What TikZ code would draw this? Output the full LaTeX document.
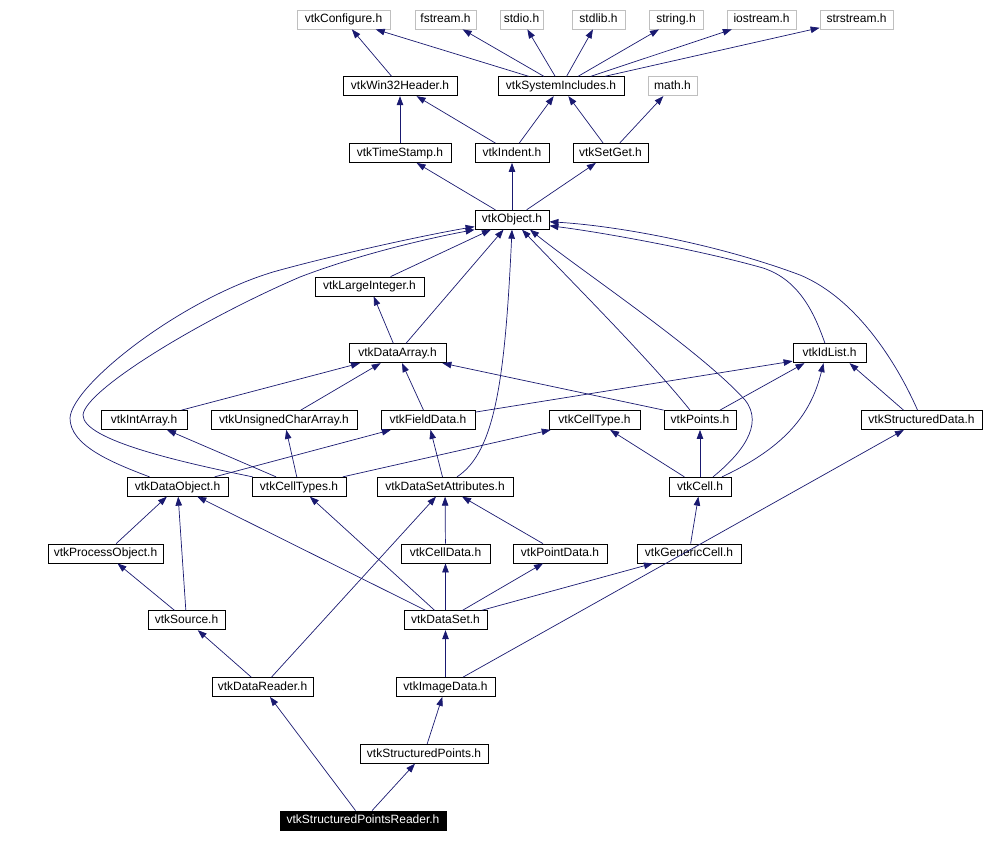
\documentclass[tikz,border=0pt]{standalone}
\usepackage{fontspec}
\setmainfont{Liberation Sans}
\usepackage{tikz}
\usetikzlibrary{arrows.meta}
\definecolor{edgeblue}{HTML}{191970}
\definecolor{boxgray}{HTML}{BFBFBF}
\tikzset{>={Triangle[length=9pt,width=6.5pt]}}
\tikzset{
  hdr/.style={draw=black, line width=0.8pt, fill=white, inner xsep=0pt, inner ysep=0pt,
    minimum height=19pt, text height=9pt, text depth=2.5pt, font=\fontsize{12}{14}\selectfont},
  syshdr/.style={hdr, draw=boxgray},
  curhdr/.style={hdr, fill=black, text=white},
  dep/.style={->, draw=edgeblue, line width=0.7pt}
}
\begin{document}
\begin{tikzpicture}[x=1pt,y=-1pt]
				\useasboundingbox (0,0) rectangle (984,842);
				% system headers
				\node[syshdr, minimum width=93pt] (cfg) at (343.5,19.5) {vtkConfigure.h};
				\node[syshdr, minimum width=61pt] (fstr) at (445.5,19.5) {fstream.h};
				\node[syshdr, minimum width=43pt] (stdio) at (521.5,19.5) {stdio.h};
				\node[syshdr, minimum width=53pt] (stdlib) at (598.5,19.5) {stdlib.h};
				\node[syshdr, minimum width=54pt] (str) at (676,19.5) {string.h};
				\node[syshdr, minimum width=69pt] (ios) at (761.5,19.5) {iostream.h};
				\node[syshdr, minimum width=73pt] (sstr) at (856.5,19.5) {strstream.h};
				\node[hdr, minimum width=114pt] (win) at (400,86.25) {vtkWin32Header.h};
				\node[hdr, minimum width=126pt] (sys) at (561,86.25) {vtkSystemIncludes.h};
				\node[syshdr, minimum width=49pt] (math) at (672.5,86.25) {math.h};
				\node[hdr, minimum width=102pt] (ts) at (400,153) {vtkTimeStamp.h};
				\node[hdr, minimum width=74pt] (ind) at (512,153) {vtkIndent.h};
				\node[hdr, minimum width=75pt] (sg) at (610.5,153) {vtkSetGet.h};
				\node[hdr, minimum width=74pt] (obj) at (512,219.75) {vtkObject.h};
				\node[hdr, minimum width=109pt] (li) at (369.5,286.5) {vtkLargeInteger.h};
				\node[hdr, minimum width=97pt] (da) at (397.5,353.25) {vtkDataArray.h};
				\node[hdr, minimum width=73pt] (idl) at (829.5,353.25) {vtkIdList.h};
				\node[hdr, minimum width=86pt] (ia) at (144,420) {vtkIntArray.h};
				\node[hdr, minimum width=146pt] (uca) at (284,420) {vtkUnsignedCharArray.h};
				\node[hdr, minimum width=94pt] (fd) at (428,420) {vtkFieldData.h};
				\node[hdr, minimum width=91pt] (ctype) at (594.5,420) {vtkCellType.h};
				\node[hdr, minimum width=72pt] (pts) at (700,420) {vtkPoints.h};
				\node[hdr, minimum width=121pt] (sd) at (921.5,420) {vtkStructuredData.h};
				\node[hdr, minimum width=101pt] (dobj) at (177.5,486.75) {vtkDataObject.h};
				\node[hdr, minimum width=94pt] (ctypes) at (299,486.75) {vtkCellTypes.h};
				\node[hdr, minimum width=136pt] (dsa) at (445,486.75) {vtkDataSetAttributes.h};
				\node[hdr, minimum width=62pt] (cell) at (700,486.75) {vtkCell.h};
				\node[hdr, minimum width=115pt] (po) at (105.5,553.5) {vtkProcessObject.h};
				\node[hdr, minimum width=89pt] (cd) at (445.5,553.5) {vtkCellData.h};
				\node[hdr, minimum width=94pt] (pd) at (560,553.5) {vtkPointData.h};
				\node[hdr, minimum width=104pt] (gc) at (689,553.5) {vtkGenericCell.h};
				\node[hdr, minimum width=77pt] (src) at (186.5,620.25) {vtkSource.h};
				\node[hdr, minimum width=83pt] (ds) at (445.5,620.25) {vtkDataSet.h};
				\node[hdr, minimum width=101pt] (dr) at (262.5,687) {vtkDataReader.h};
				\node[hdr, minimum width=99pt] (id) at (445.5,687) {vtkImageData.h};
				\node[hdr, minimum width=128pt] (sp) at (424,753.75) {vtkStructuredPoints.h};
				\node[curhdr, minimum width=166pt] (spr) at (363,820.5) {vtkStructuredPointsReader.h};
				% includes
				\draw[dep] (win) -- (cfg);
				\draw[dep] (sys) -- (cfg);
				\draw[dep] (sys) -- (fstr);
				\draw[dep] (sys) -- (stdio);
				\draw[dep] (sys) -- (stdlib);
				\draw[dep] (sys) -- (str);
				\draw[dep] (sys) -- (ios);
				\draw[dep] (sys) -- (sstr);
				\draw[dep] (ts) -- (win);
				\draw[dep] (ind) -- (win);
				\draw[dep] (ind) -- (sys);
				\draw[dep] (sg) -- (sys);
				\draw[dep] (sg) -- (math);
				\draw[dep] (obj) -- (ts);
				\draw[dep] (obj) -- (ind);
				\draw[dep] (obj) -- (sg);
				\draw[dep] (li) -- (obj);
				\draw[dep] (da) -- (li);
				\draw[dep] (da) -- (obj);
				\draw[dep] ([xshift=-4.5pt]idl.north) .. controls (815,315) and (800,280) .. (763,268)
					.. controls (700,250) and (600,232) .. ([yshift=-6pt]obj.east);
				\draw[dep] ([xshift=-4pt]sd.north) .. controls (900,370) and (860,300) .. (800,275)
					.. controls (720,245) and (620,226) .. ([yshift=-2pt]obj.east);
				\draw[dep] ([xshift=-28pt]dobj.north) .. controls (110,462) and (70,445) .. (70,418)
					.. controls (72,385) and (180,300) .. (273,272)
					.. controls (330,256) and (420,236) .. ([yshift=3pt]obj.south west);
				\draw[dep] ([xshift=1pt]ctypes.north west) .. controls (180,462) and (83,440) .. (83,415)
					.. controls (85,390) and (200,320) .. (300,277)
					.. controls (360,254) and (430,238) .. (obj.south west);
				\draw[dep] ([xshift=13pt]cell.north) .. controls (740,455) and (765,425) .. (745,400)
					.. controls (700,350) and (580,270) .. ([xshift=18pt]obj.south);
				\draw[dep] ([xshift=-10pt]pts.north) .. controls (650,360) and (570,280) .. ([xshift=10pt]obj.south);
				\draw[dep] ([xshift=12pt]dsa.north) .. controls (495,452) and (505,380) .. (obj.south);
				\draw[dep] (ia) -- (da);
				\draw[dep] (uca) -- (da);
				\draw[dep] (fd) -- (da);
				\draw[dep] (pts.north west) -- ([xshift=-4pt]da.south east);
				\draw[dep] ([yshift=-2pt]fd.north east) -- ([yshift=2pt]idl.south west);
				\draw[dep] ([xshift=20pt]pts.north) -- ([xshift=-25pt]idl.south);
				\draw[dep] ([xshift=22pt]cell.north) .. controls (790,445) and (812,410) .. ([xshift=-6pt]idl.south);
				\draw[dep] ([xshift=-18pt]sd.north) -- ([xshift=20pt]idl.south);
				\draw[dep] (dobj) -- (fd);
				\draw[dep] (ctypes) -- (ia);
				\draw[dep] (ctypes) -- (uca);
				\draw[dep] (ctypes) -- (ctype);
				\draw[dep] (dsa) -- (fd);
				\draw[dep] (cell) -- (ctype);
				\draw[dep] (cell) -- (pts);
				\draw[dep] (po) -- (dobj);
				\draw[dep] (cd) -- (dsa);
				\draw[dep] (pd) -- (dsa);
				\draw[dep] (gc) -- (cell);
				\draw[dep] (src) -- (po);
				\draw[dep] (src) -- (dobj);
				\draw[dep] (ds) -- (dobj);
				\draw[dep] (ds) -- (ctypes);
				\draw[dep] (ds) -- (cd);
				\draw[dep] (ds) -- (pd);
				\draw[dep] (ds) -- (gc);
				\draw[dep] (dr) -- (src);
				\draw[dep] (dr) -- (dsa);
				\draw[dep] (id) -- (ds);
				\draw[dep] (id) -- (sd);
				\draw[dep] (sp) -- (id);
				\draw[dep] (spr) -- (dr);
				\draw[dep] (spr) -- (sp);
			\end{tikzpicture}
\end{document}
